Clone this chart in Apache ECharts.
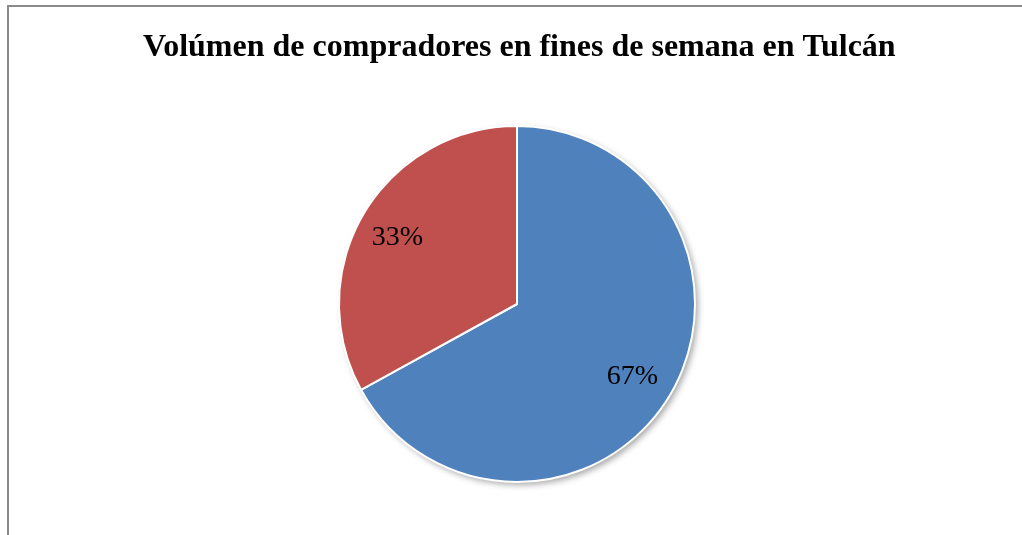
<!DOCTYPE html>
<html>
<head>
<meta charset="utf-8">
<style>
  html, body { margin: 0; padding: 0; background: #fff; }
  #chart { width: 1022px; height: 535px; }
</style>
<script src="https://cdn.jsdelivr.net/npm/echarts@6/dist/echarts.min.js"></script>
</head>
<body>
<div id="chart"></div>
<script>
var titleText = 'Volúmen de compradores en fines de semana en Tulcán';
var categories = ['Sí', 'No'];
var values = [67, 33];
var colors = ['#4F81BD', '#C0504D'];

var pieData = categories.map(function (c, i) {
    return { name: c, value: values[i], itemStyle: { color: colors[i] } };
});
var labelData = categories.map(function (c, i) {
    return { name: c, value: values[i] };
});
var total = values.reduce(function (a, b) { return a + b; }, 0);

var serif = '"Liberation Serif", "Times New Roman", serif';

var myChart = echarts.init(document.getElementById('chart'));
myChart.setOption({
    animation: false,
    title: {
        text: titleText,
        left: 138,
        top: 27,
        textStyle: {
            fontFamily: serif,
            fontWeight: 'bold',
            fontSize: 32,
            color: '#000'
        }
    },
    graphic: [{
        type: 'rect',
        shape: { x: 8, y: 6, width: 1100, height: 600 },
        style: { fill: 'none', stroke: '#8a8a8a', lineWidth: 2 },
        silent: true
    }],
    series: [
        {
            // outer shadow of the whole pie
            type: 'pie',
            center: [517, 304],
            radius: [0, 178],
            silent: true,
            data: [{ name: 'total', value: total }],
            label: { show: false },
            labelLine: { show: false },
            itemStyle: {
                color: '#fff',
                borderWidth: 0,
                shadowBlur: 6,
                shadowOffsetX: 3,
                shadowOffsetY: 3,
                shadowColor: 'rgba(0,0,0,0.35)'
            },
            emphasis: { disabled: true }
        },
        {
            // slices
            type: 'pie',
            center: [517, 304],
            radius: [0, 178],
            startAngle: 90,
            clockwise: true,
            data: pieData,
            label: { show: false },
            labelLine: { show: false },
            itemStyle: {
                borderColor: '#fff',
                borderWidth: 2
            },
            emphasis: { disabled: true }
        },
        {
            // labels only, placed at 3/4 of the radius
            type: 'pie',
            center: [515, 307],
            radius: [89, 178],
            startAngle: 90,
            clockwise: true,
            silent: true,
            data: labelData,
            itemStyle: { color: 'rgba(0,0,0,0)', borderWidth: 0 },
            label: {
                show: true,
                position: 'inside',
                formatter: function (p) { return p.value + '%'; },
                fontFamily: serif,
                fontSize: 28,
                color: '#000'
            },
            labelLine: { show: false },
            emphasis: { disabled: true }
        }
    ]
});
</script>
</body>
</html>
